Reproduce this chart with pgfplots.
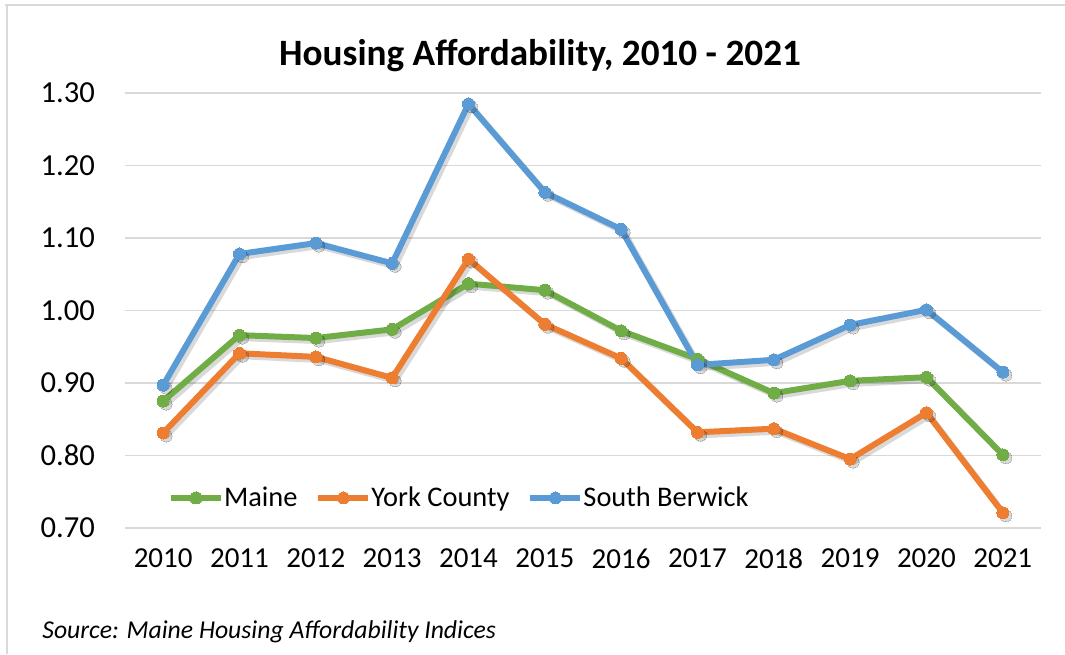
\documentclass[border=0pt]{standalone}
\usepackage{fontspec}
\setmainfont{Carlito}
\usepackage{pgfplots}
\usepackage{pgfplotstable}
\pgfplotsset{compat=1.18}
\definecolor{cgreen}{HTML}{70AD47}
\definecolor{corange}{HTML}{ED7D31}
\definecolor{cblue}{HTML}{5B9BD5}
\definecolor{gridc}{HTML}{D9D9D9}
\definecolor{framec}{HTML}{D9D9D9}

\pgfplotstableread{
year maine york sb
2010 0.875 0.831 0.897
2011 0.966 0.941 1.078
2012 0.962 0.936 1.093
2013 0.974 0.907 1.065
2014 1.037 1.071 1.285
2015 1.028 0.981 1.163
2016 0.972 0.934 1.112
2017 0.933 0.832 0.925
2018 0.886 0.837 0.932
2019 0.903 0.795 0.980
2020 0.908 0.859 1.001
2021 0.801 0.721 0.915
}\datatable

\begin{document}
\begin{tikzpicture}
\path[use as bounding box] (0,0) rectangle (532.5pt,327pt);
\draw[framec,line width=1pt] (2.5pt,324.5pt) -- (532.5pt,324.5pt);
\draw[framec,line width=1pt] (3.5pt,0pt) -- (3.5pt,324.5pt);
\begin{axis}[
  at={(62.5pt,63pt)},anchor=south west,
  scale only axis,width=458pt,height=217.5pt,
  xmin=2009.5,xmax=2021.5,ymin=0.70,ymax=1.30,
  xtick={2010,...,2021},ytick={0.7,0.8,...,1.31},
  xticklabel style={/pgf/number format/1000 sep={},yshift=-7pt,font=\fontsize{14.5}{17}\selectfont},
  yticklabel style={/pgf/number format/fixed,/pgf/number format/fixed zerofill,
    /pgf/number format/precision=2,xshift=-11.5pt,font=\fontsize{15.3}{18}\selectfont},
  /pgf/number format/assume math mode=true,
  tick label style={color=black},
  major tick length=0pt,
  axis line style={draw=none},
  ymajorgrids,grid style={gridc,line width=0.8pt},
  clip=false,
  legend columns=-1,
  legend style={at={(0.04,0.069)},anchor=west,draw=none,fill=none,
    font=\fontsize{14.2}{16}\selectfont,
    /tikz/every even column/.append style={column sep=7pt},
    /tikz/every odd column/.append style={column sep=-2pt}},
  legend image code/.code={\draw[mark repeat=2,mark phase=2,#1]
    plot coordinates {(0pt,0pt)(12.5pt,0pt)(25pt,0pt)};},
  every axis plot/.append style={line width=3pt,mark=*,mark size=3pt,
    mark options={line width=0pt}},
]
\addplot[black,opacity=0.15,xshift=1.5pt,yshift=-1.5pt,forget plot] table[x=year,y=maine]{\datatable};
\addplot[cgreen] table[x=year,y=maine]{\datatable};
\addlegendentry{Maine}
\addplot[black,opacity=0.15,xshift=1.5pt,yshift=-1.5pt,forget plot] table[x=year,y=york]{\datatable};
\addplot[corange] table[x=year,y=york]{\datatable};
\addlegendentry{York County}
\addplot[black,opacity=0.15,xshift=1.5pt,yshift=-1.5pt,forget plot] table[x=year,y=sb]{\datatable};
\addplot[cblue] table[x=year,y=sb]{\datatable};
\addlegendentry{South Berwick}
\end{axis}
\node[font=\fontsize{18.6}{21}\selectfont\bfseries] at (270pt,299pt) {Housing Affordability, 2010 - 2021};
\node[anchor=base west,inner sep=0pt,font=\fontsize{12.85}{15}\selectfont\itshape] at (21pt,8pt) {Source: Maine Housing Affordability Indices};
\end{tikzpicture}
\end{document}
